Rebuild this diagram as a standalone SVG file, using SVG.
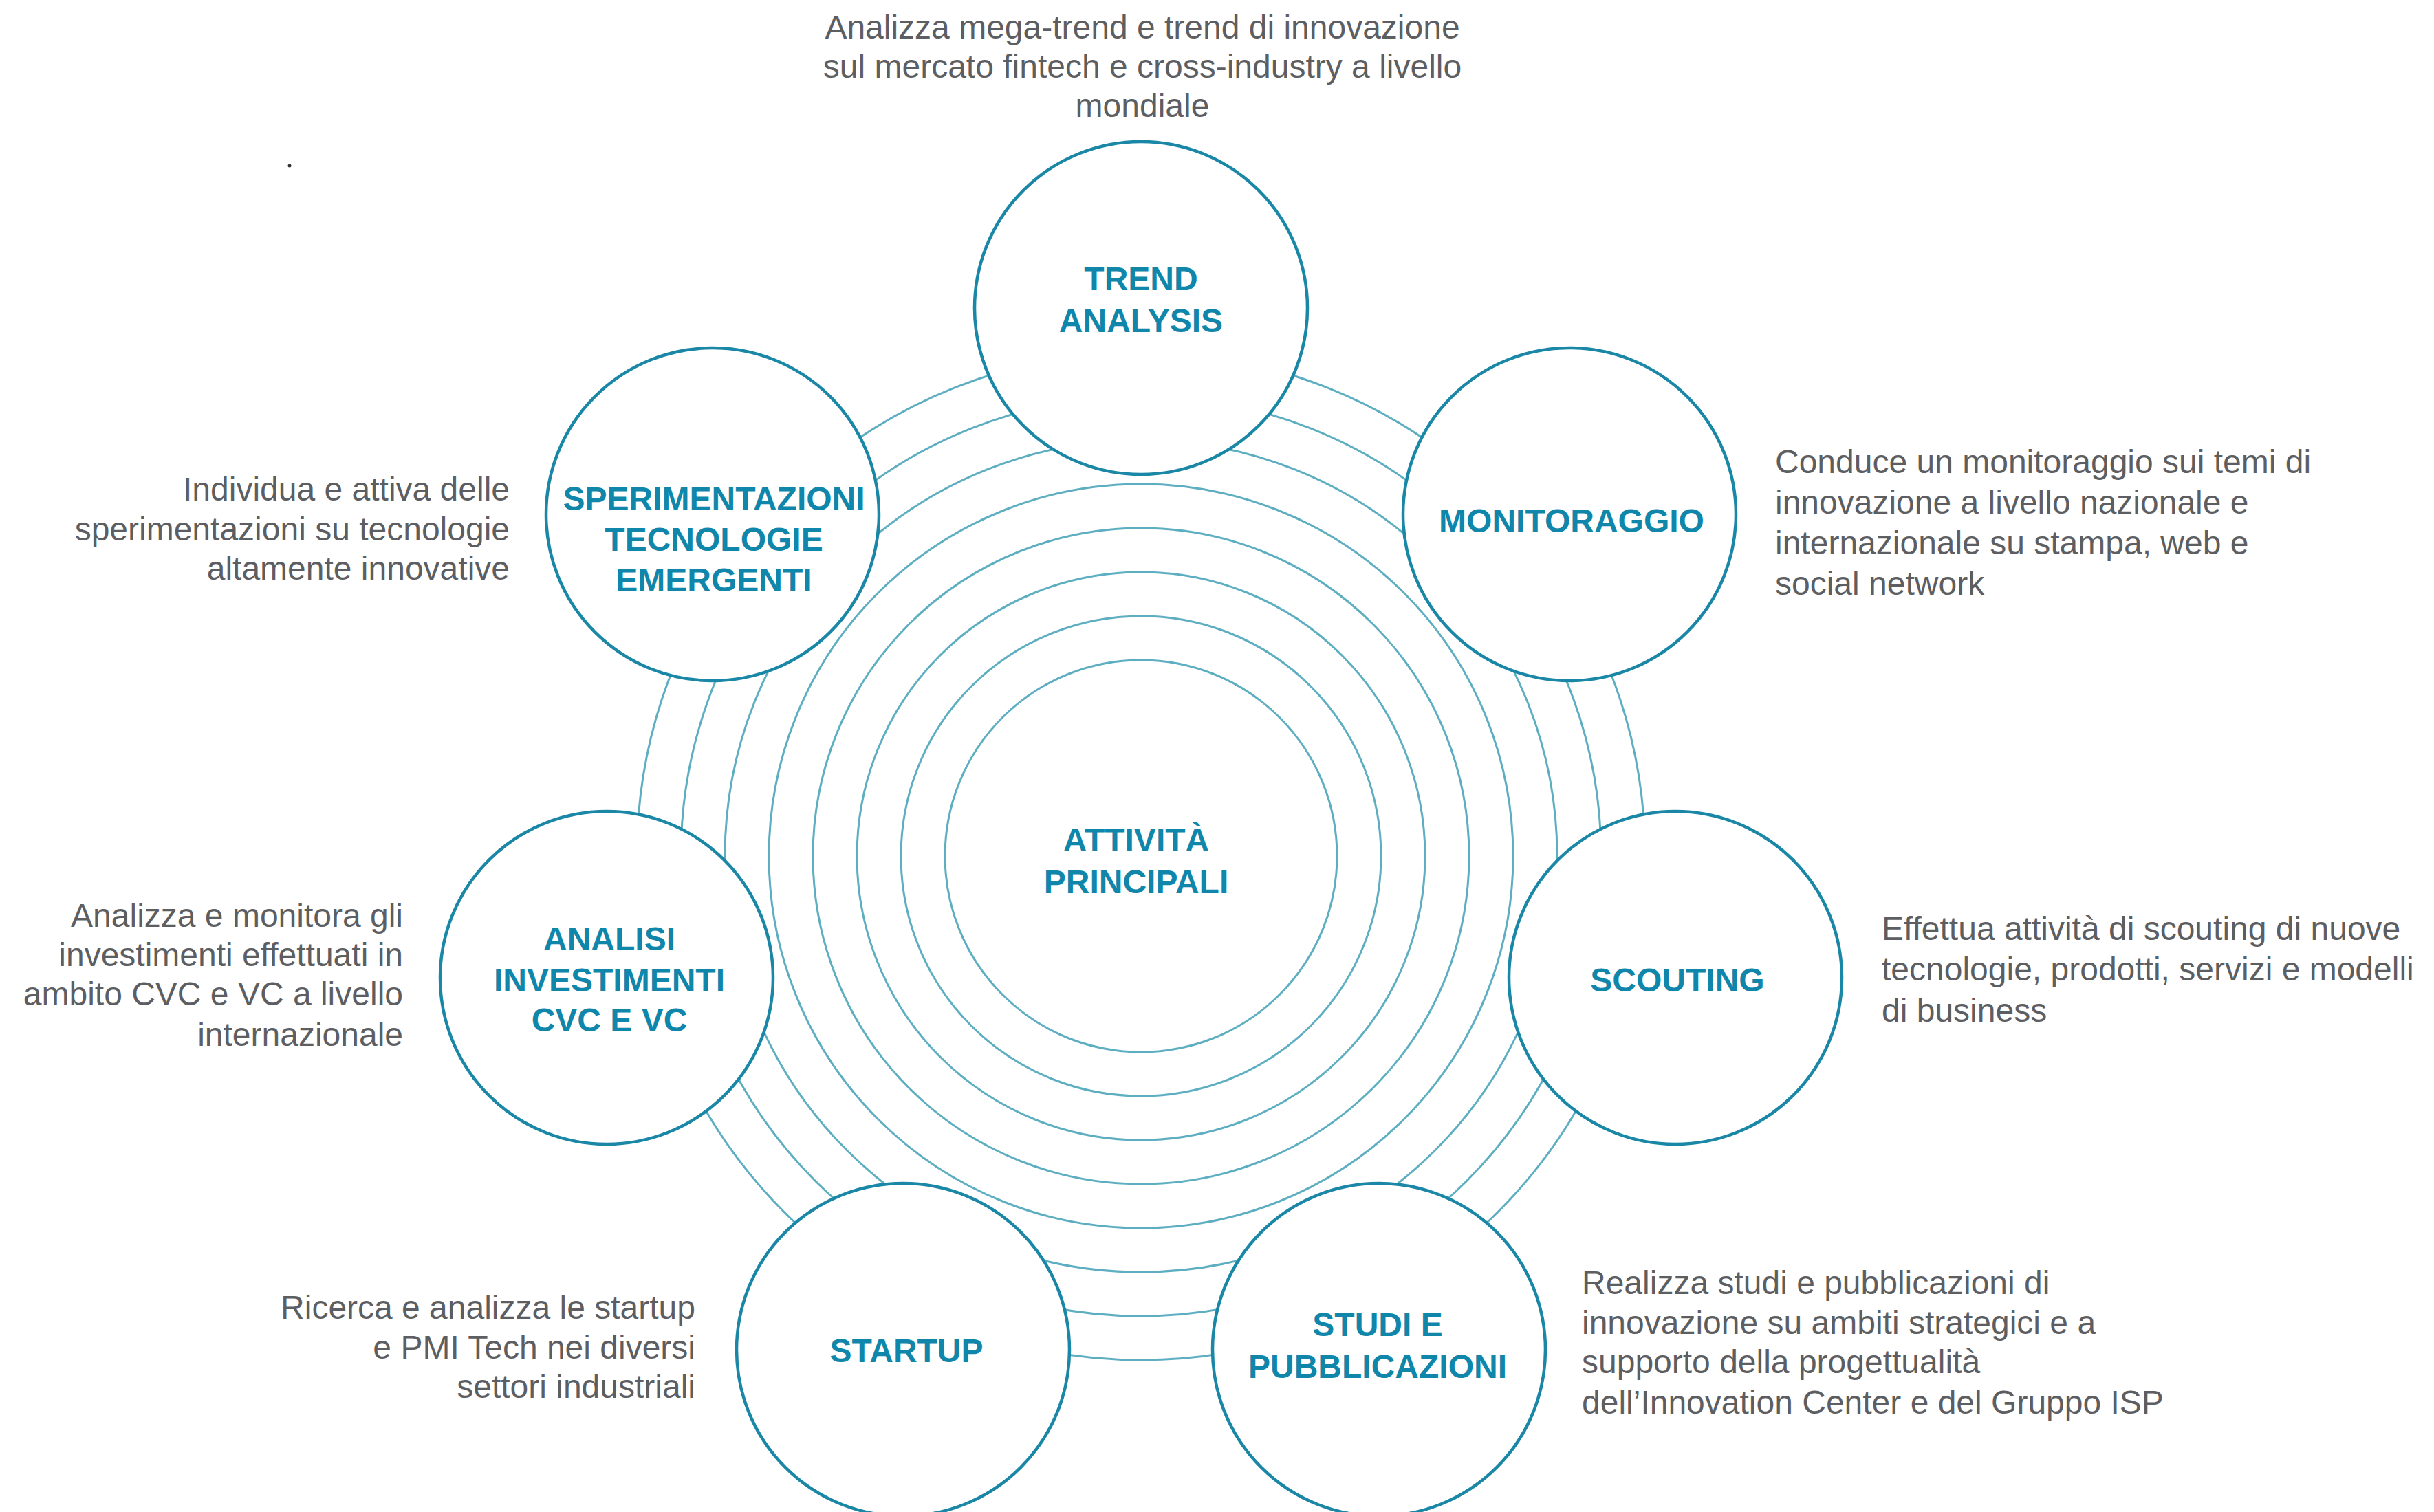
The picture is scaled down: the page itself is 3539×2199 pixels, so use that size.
<svg xmlns="http://www.w3.org/2000/svg" width="3539" height="2199" viewBox="0 0 3539 2199">
<style>
.ring{fill:none;stroke:#5eaec2;stroke-width:3}
.node{fill:#ffffff;stroke:#1a87a6;stroke-width:4.5}
.lbl{font-family:"Liberation Sans",Arial,sans-serif;font-weight:bold;font-size:48px;fill:#0f86aa;text-anchor:middle}
.desc{font-family:"Liberation Sans",Arial,sans-serif;font-size:48px;fill:#5d5e62}
.r{text-anchor:end}
.m{text-anchor:middle}
</style>
<rect width="3539" height="2199" fill="#ffffff"/>
<circle cx="421" cy="241" r="2.5" fill="#333"/>
<g id="connectors">
<circle class="ring" cx="1659" cy="1245" r="285"/>
<circle class="ring" cx="1659" cy="1245" r="349"/>
<circle class="ring" cx="1659" cy="1245" r="413"/>
<circle class="ring" cx="1659" cy="1245" r="477"/>
<circle class="ring" cx="1659" cy="1245" r="541"/>
<circle class="ring" cx="1659" cy="1245" r="605"/>
<circle class="ring" cx="1659" cy="1245" r="669"/>
<circle class="ring" cx="1659" cy="1245" r="733"/>
</g>
<g id="center">
<text class="lbl" x="1652" y="1238">ATTIVITÀ</text>
<text class="lbl" x="1652" y="1299">PRINCIPALI</text>
</g>
<g id="trend">
<circle class="node" cx="1659" cy="448" r="242"/>
<text class="lbl" x="1659" y="422">TREND</text>
<text class="lbl" x="1659" y="483">ANALYSIS</text>
<text class="desc m" x="1661" y="56">Analizza mega-trend e trend di innovazione</text>
<text class="desc m" x="1661" y="113">sul mercato fintech e cross-industry a livello</text>
<text class="desc m" x="1661" y="170">mondiale</text>
</g>
<g id="monitoraggio">
<circle class="node" cx="2282" cy="748" r="242"/>
<text class="lbl" x="2285" y="774">MONITORAGGIO</text>
<text class="desc" x="2581" y="688">Conduce un monitoraggio sui temi di</text>
<text class="desc" x="2581" y="747">innovazione a livello nazionale e</text>
<text class="desc" x="2581" y="806">internazionale su stampa, web e</text>
<text class="desc" x="2581" y="865">social network</text>
</g>
<g id="scouting">
<circle class="node" cx="2436" cy="1422" r="242"/>
<text class="lbl" x="2439" y="1442">SCOUTING</text>
<text class="desc" x="2736" y="1367">Effettua attività di scouting di nuove</text>
<text class="desc" x="2736" y="1426">tecnologie, prodotti, servizi e modelli</text>
<text class="desc" x="2736" y="1486">di business</text>
</g>
<g id="studi">
<circle class="node" cx="2005" cy="1963" r="242"/>
<text class="lbl" x="2003" y="1943">STUDI E</text>
<text class="lbl" x="2003" y="2004">PUBBLICAZIONI</text>
<text class="desc" x="2300" y="1882">Realizza studi e pubblicazioni di</text>
<text class="desc" x="2300" y="1940">innovazione su ambiti strategici e a</text>
<text class="desc" x="2300" y="1997">supporto della progettualità</text>
<text class="desc" x="2300" y="2056">dell’Innovation Center e del Gruppo ISP</text>
</g>
<g id="startup">
<circle class="node" cx="1313" cy="1963" r="242"/>
<text class="lbl" x="1318" y="1981">STARTUP</text>
<text class="desc r" x="1011" y="1918">Ricerca e analizza le startup</text>
<text class="desc r" x="1011" y="1976">e PMI Tech nei diversi</text>
<text class="desc r" x="1011" y="2033">settori industriali</text>
</g>
<g id="analisi">
<circle class="node" cx="882" cy="1422" r="242"/>
<text class="lbl" x="886" y="1382">ANALISI</text>
<text class="lbl" x="886" y="1442">INVESTIMENTI</text>
<text class="lbl" x="886" y="1500">CVC E VC</text>
<text class="desc r" x="586" y="1348">Analizza e monitora gli</text>
<text class="desc r" x="586" y="1405">investimenti effettuati in</text>
<text class="desc r" x="586" y="1462">ambito CVC e VC a livello</text>
<text class="desc r" x="586" y="1521">internazionale</text>
</g>
<g id="sperimentazioni">
<circle class="node" cx="1036" cy="748" r="242"/>
<text class="lbl" x="1038" y="742">SPERIMENTAZIONI</text>
<text class="lbl" x="1038" y="801">TECNOLOGIE</text>
<text class="lbl" x="1038" y="860">EMERGENTI</text>
<text class="desc r" x="741" y="728">Individua e attiva delle</text>
<text class="desc r" x="741" y="786">sperimentazioni su tecnologie</text>
<text class="desc r" x="741" y="843">altamente innovative</text>
</g>
</svg>
